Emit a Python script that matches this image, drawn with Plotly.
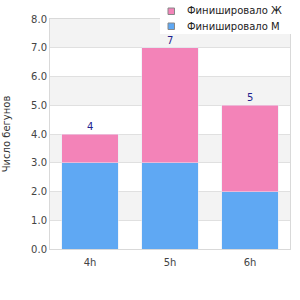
import plotly.graph_objects as go

categories = ["4h", "5h", "6h"]
men = [3, 3, 2]
women = [1, 4, 3]
totals = [m + w for m, w in zip(men, women)]
y_ticks = [0, 1, 2, 3, 4, 5, 6, 7, 8]
y_tick_labels = ["0.0", "1.0", "2.0", "3.0", "4.0", "5.0", "6.0", "7.0", "8.0"]
legend_names = ["Финишировало Ж", "Финишировало М"]

PINK = "#f383b8"
BLUE = "#5fa8f3"
legend_colors = [PINK, BLUE]

W, H = 300, 300
ML, MR, MT, MB = 50, 10, 19, 51
PW, PH = W - ML - MR, H - MT - MB


def px(x):
    return (x - ML) / PW


def py(y):
    return (H - MB - y) / PH


fig = go.Figure()
fig.add_trace(go.Bar(x=categories, y=men, marker_color=BLUE, name=legend_names[1], showlegend=False, width=0.71))
fig.add_trace(go.Bar(x=categories, y=women, marker_color=PINK, name=legend_names[0], showlegend=False, width=0.71))

for c, t in zip(categories, totals):
    fig.add_annotation(x=c, y=t, text=str(t), showarrow=False, yanchor="bottom", yshift=0,
                       font=dict(color="#1f1f8f", size=10, family="DejaVu Sans"))

for lo in [1, 3, 5, 7]:
    fig.add_shape(type="rect", xref="paper", yref="y", x0=0, x1=1, y0=lo, y1=lo + 1,
                  fillcolor="#f3f3f3", line_width=0, layer="below")

# manual legend
fig.add_shape(type="rect", xref="paper", yref="paper", x0=px(160), x1=px(300), y0=py(34), y1=py(0),
              fillcolor="white", line_width=0, layer="above")
for i, (name, col) in enumerate(zip(legend_names, legend_colors)):
    cy = 11 + 15 * i
    fig.add_shape(type="rect", xref="paper", yref="paper", x0=px(168), x1=px(174.5), y0=py(cy + 3.5), y1=py(cy - 3),
                  fillcolor=col, line=dict(color="#888", width=1), layer="above")
    fig.add_annotation(xref="paper", yref="paper", x=px(185), y=py(cy), text=name, showarrow=False,
                       xanchor="left", yanchor="middle", font=dict(size=10, color="#222"))

fig.update_layout(
    width=W, height=H,
    margin=dict(l=ML, r=MR, t=MT, b=MB, autoexpand=False),
    barmode="stack",
    plot_bgcolor="white", paper_bgcolor="white",
    font=dict(family="DejaVu Sans", size=10, color="#444"),
    showlegend=False,
    xaxis=dict(showgrid=False, showline=True, linecolor="#d9d9d9", mirror=True,
               tickfont=dict(size=10, color="#444"), ticks="", ticklabelstandoff=4),
    yaxis=dict(range=[0, 8], tickvals=y_ticks, ticktext=y_tick_labels,
               showgrid=True, gridcolor="#e0e0e0", showline=True, linecolor="#d9d9d9", mirror=True,
               zeroline=False, tickfont=dict(size=10, color="#444"),
               title=dict(text="Число бегунов", font=dict(size=10, color="#333"), standoff=18)),
)

fig.write_html("out.html")
